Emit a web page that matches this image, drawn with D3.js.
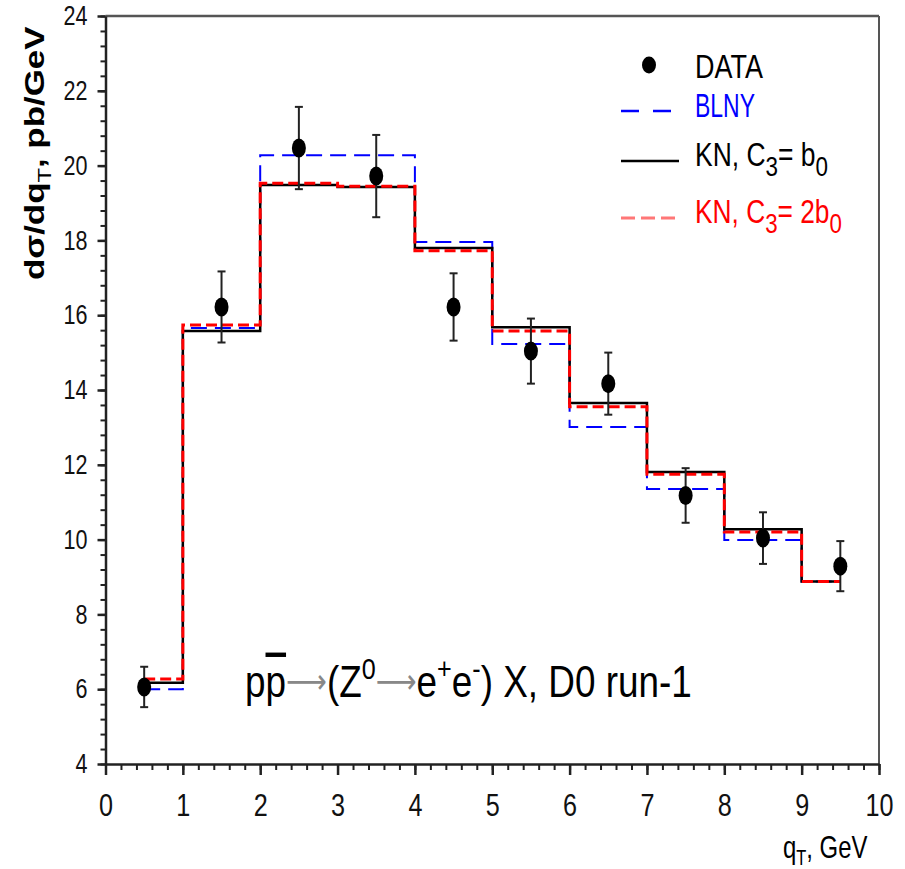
<!DOCTYPE html>
<html><head><meta charset="utf-8">
<script src="https://cdn.jsdelivr.net/npm/d3@7"></script>
<style>
body{margin:0;background:#fff;}
text{font-family:"Liberation Sans",Arial,sans-serif;}
</style></head>
<body><svg id="chart" width="905" height="869"></svg>
<script>
// ---- data ----
const qT        = [0.5,1.5,2.5,3.5,4.5,5.5,6.5,7.5,8.5,9.5];
const dataVal   = [6.06,16.22,20.47,19.72,16.22,15.04,14.17,11.18,10.04,9.29];
const dataErr   = [0.54,0.95,1.1,1.1,0.9,0.87,0.83,0.73,0.69,0.67];
const stepX     = [0.5,1,2,3,4,5,6,7,8,9,9.5];
const blny      = [6.0,15.66,20.28,20.28,17.96,15.23,13.01,11.35,9.99,8.88];
const knB0      = [6.17,15.58,19.48,19.43,17.8,15.68,13.65,11.81,10.28,8.88];
const kn2B0     = [6.27,15.74,19.53,19.45,17.72,15.58,13.55,11.75,10.2,8.88];
const xTicks    = [0,1,2,3,4,5,6,7,8,9,10];
const yTicks    = [4,6,8,10,12,14,16,18,20,22,24];

const svg = d3.select("#chart");
const x = d3.scaleLinear().domain([0,10]).range([105.5,879]);
const y = d3.scaleLinear().domain([4,24]).range([764,16]);

// frame top/right
svg.append("line").attr("x1",x(0)).attr("x2",x(10)).attr("y1",y(24)).attr("y2",y(24))
  .attr("stroke","#555").attr("stroke-width",2.5);
svg.append("line").attr("x1",x(10)).attr("x2",x(10)).attr("y1",y(24)).attr("y2",y(4))
  .attr("stroke","#555").attr("stroke-width",2);

// minor ticks
svg.append("g").attr("transform",`translate(0,${y(4)})`)
  .call(d3.axisBottom(x).tickValues(d3.range(0,10.01,0.2)).tickSize(6).tickFormat(""))
  .call(g=>g.select(".domain").remove())
  .selectAll("line").attr("stroke","#222").attr("stroke-width",2);
svg.append("g").attr("transform",`translate(${x(0)},0)`)
  .call(d3.axisLeft(y).tickValues(d3.range(4,24.01,0.4)).tickSize(5).tickFormat(""))
  .call(g=>g.select(".domain").remove())
  .selectAll("line").attr("stroke","#222").attr("stroke-width",2);

// major axes
const gx = svg.append("g").attr("transform",`translate(0,${y(4)})`)
  .call(d3.axisBottom(x).tickValues(xTicks).tickSize(11).tickPadding(18).tickSizeOuter(0));
gx.select(".domain").attr("stroke","#222").attr("stroke-width",2.5);
gx.selectAll("line").attr("stroke","#222").attr("stroke-width",2.5);
gx.selectAll("text").attr("font-size",32).attr("fill","#111")
  .attr("textLength",d=>String(d).length*14).attr("lengthAdjust","spacingAndGlyphs");

const gy = svg.append("g").attr("transform",`translate(${x(0)},0)`)
  .call(d3.axisLeft(y).tickValues(yTicks).tickSize(8).tickPadding(10).tickSizeOuter(0));
gy.select(".domain").attr("stroke","#222").attr("stroke-width",2.5);
gy.selectAll("line").attr("stroke","#222").attr("stroke-width",2.5);
gy.selectAll("text").attr("font-size",27).attr("fill","#111")
  .attr("textLength",d=>String(d).length*12).attr("lengthAdjust","spacingAndGlyphs");

// histograms
const pts = arr => stepX.map((sx,i)=>[sx, arr[Math.min(i,arr.length-1)]]);
const line = d3.line().x(d=>x(d[0])).y(d=>y(d[1])).curve(d3.curveStepAfter);
svg.append("path").attr("d",line(pts(blny))).attr("fill","none")
  .attr("stroke","#0000ff").attr("stroke-width",2).attr("stroke-dasharray","16,8");
svg.append("path").attr("d",line(pts(knB0))).attr("fill","none")
  .attr("stroke","#000").attr("stroke-width",2.5);
svg.append("path").attr("d",line(pts(kn2B0))).attr("fill","none")
  .attr("stroke","#ff0000").attr("stroke-width",3).attr("stroke-dasharray","11,5");

// data with errors
const gd = svg.append("g");
qT.forEach((q,i)=>{
  const cx=x(q), yt=y(dataVal[i]+dataErr[i]), yb=y(dataVal[i]-dataErr[i]);
  gd.append("line").attr("x1",cx).attr("x2",cx).attr("y1",yt).attr("y2",yb).attr("stroke","#222").attr("stroke-width",2);
  gd.append("line").attr("x1",cx-4).attr("x2",cx+4).attr("y1",yt).attr("y2",yt).attr("stroke","#222").attr("stroke-width",2);
  gd.append("line").attr("x1",cx-4).attr("x2",cx+4).attr("y1",yb).attr("y2",yb).attr("stroke","#222").attr("stroke-width",2);
  gd.append("ellipse").attr("cx",cx).attr("cy",y(dataVal[i])).attr("rx",7).attr("ry",9.5).attr("fill","#000");
});

// helper: place text group scaled to target width
function fit(g, tx, ty, target, extra){
  const w = g.node().getBBox().width;
  g.attr("transform",`translate(${tx},${ty}) ${extra||""} scale(${target/w},1)`);
}

// legend
svg.append("ellipse").attr("cx",649).attr("cy",65).attr("rx",7).attr("ry",8.5).attr("fill","#000");
svg.append("line").attr("x1",621).attr("x2",672).attr("y1",111).attr("y2",111)
  .attr("stroke","#0000ff").attr("stroke-width",2.5).attr("stroke-dasharray","18,14");
svg.append("line").attr("x1",621).attr("x2",679).attr("y1",161).attr("y2",161)
  .attr("stroke","#000").attr("stroke-width",2.5);
svg.append("line").attr("x1",621).attr("x2",676).attr("y1",218).attr("y2",218)
  .attr("stroke","#ff7777").attr("stroke-width",3).attr("stroke-dasharray","14,6");

function legText(txt, color, ty, target, subs){
  const g = svg.append("g");
  const t = g.append("text").attr("font-size",33).attr("fill",color);
  if(!subs){ t.text(txt); }
  else {
    subs.forEach(s=>{
      const ts = t.append("tspan").text(s.t);
      if(s.sub){ ts.attr("font-size",28).attr("dy",10); }
      if(s.back){ ts.attr("dy",-10); }
    });
  }
  fit(g,695,ty,target);
}
legText("DATA","#000",78,68);
legText("BLNY","#0000ff",117,60);
legText("","#000",166,133,[{t:"KN, C"},{t:"3",sub:true},{t:"= b",back:true},{t:"0",sub:true}]);
legText("","#ff0000",223,147,[{t:"KN, C"},{t:"3",sub:true},{t:"= 2b",back:true},{t:"0",sub:true}]);

// annotation
{
  const g = svg.append("g");
  const t = g.append("text").attr("font-size",44).attr("fill","#000");
  t.append("tspan").text("p");
  t.append("tspan").text("p").style("text-decoration","overline").style("text-decoration-thickness","2px");
  t.append("tspan").text("⟶").attr("fill","#888").attr("font-size",34).attr("font-family","DejaVu Sans").attr("dy",-4);
  t.append("tspan").text("(Z").attr("dy",4);
  t.append("tspan").text("0").attr("font-size",30).attr("dy",-18);
  t.append("tspan").text("⟶").attr("fill","#888").attr("font-size",34).attr("font-family","DejaVu Sans").attr("dy",14);
  t.append("tspan").text("e").attr("dy",4);
  t.append("tspan").text("+").attr("font-size",30).attr("dy",-18);
  t.append("tspan").text("e").attr("dy",18);
  t.append("tspan").text("-").attr("font-size",30).attr("dy",-18);
  t.append("tspan").text(") X, D0 run-1").attr("dy",18);
  fit(g,245,697,447);
}

// y title
{
  const g = svg.append("g");
  const t = g.append("text").attr("font-size",28).attr("font-weight","bold").attr("fill","#000");
  t.append("tspan").text("dσ/dq");
  t.append("tspan").text("T").attr("font-size",19).attr("font-weight","normal").attr("dy",7);
  t.append("tspan").text(",    pb/GeV").attr("dy",-7);
  const w = g.node().getBBox().width;
  g.attr("transform",`translate(44,280) rotate(-90) scale(${254/w},1)`);
}

// x title
{
  const g = svg.append("g");
  const t = g.append("text").attr("font-size",32).attr("fill","#000");
  t.append("tspan").text("q");
  t.append("tspan").text("T").attr("font-size",22).attr("dy",7);
  t.append("tspan").text(", GeV").attr("dy",-7);
  fit(g,783,858,85);
}
</script></body></html>
